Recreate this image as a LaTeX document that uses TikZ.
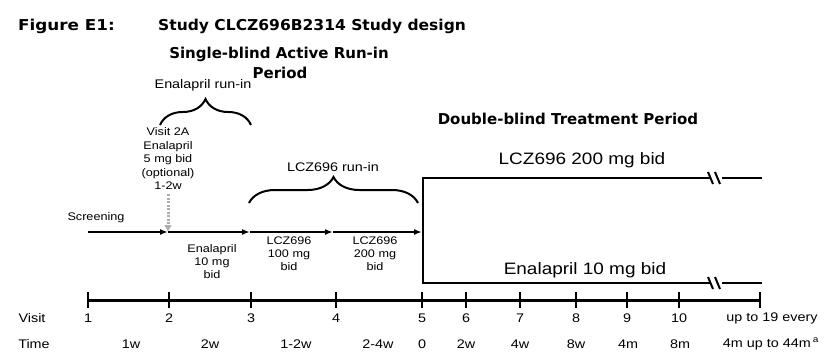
\documentclass[tikz,border=0pt]{standalone}
\usepackage{fontspec}
\setmainfont{Liberation Sans}[FakeStretch=1.15]
\newfontfamily\titlefont{DejaVu Sans}
\usetikzlibrary{arrows.meta,decorations.pathreplacing}
\begin{document}
\begin{tikzpicture}[x=1pt,y=-1pt,
  ttl/.style={font=\titlefont\bfseries\fontsize{15}{17}\selectfont,inner sep=0pt,anchor=base},
  lbl/.style={font=\fontsize{11}{13}\selectfont,inner sep=0pt,align=center},
  big/.style={font=\fontsize{16.5}{18}\selectfont,inner sep=0pt},
  axl/.style={font=\fontsize{12.5}{14}\selectfont,inner sep=0pt},
  flow/.style={line width=2.2pt,-{Latex[length=8pt,width=6pt]}},
  arm/.style={line width=2.2pt},
  brc/.style={line width=2pt,decorate,decoration={brace,amplitude=26pt}},
  tick/.style={line width=2.5pt}]
\useasboundingbox (0,0) rectangle (832,362);
% titles
\node[ttl,anchor=base west] (fig) at (18,30) {\scalebox{1.12}[1]{Figure E1:}};
\node[ttl,anchor=base west] (stu) at (158,30) {\scalebox{1.035}[1]{Study CLCZ696B2314 Study design}};
\node[ttl] (sb1) at (279,58) {Single-blind Active Run-in};
\node[ttl] (sb2) at (280,78) {Period};
\node[ttl] (db) at (568,124) {Double-blind Treatment Period};
% run-in labels and braces
\node[lbl,font=\fontsize{12.5}{14}\selectfont] (erl) at (203,85) {Enalapril run-in};
\coordinate (eb1) at (160,125);
\coordinate (eb2) at (251,125);
\draw[brc] (eb1) -- (eb2);
\node[lbl,font=\fontsize{12.5}{14}\selectfont] (lrl) at (333,167) {LCZ696 run-in};
\coordinate (lb1) at (249,203);
\coordinate (lb2) at (418,203);
\draw[brc] (lb1) -- (lb2);
% visit 2A
\node[lbl,align=center,font=\fontsize{11}{13.5}\selectfont] (v2a) at (168,159) {Visit 2A\\Enalapril\\5 mg bid\\(optional)\\1-2w};
% timeline
\coordinate (s0) at (88,232);
\coordinate (t2) at (168,232);
\coordinate (t3) at (250,232);
\coordinate (t4) at (333,232);
\coordinate (t5) at (422,232);
\coordinate (dtop) at (168,194);
\draw[gray!65,line width=3pt,dash pattern=on 2.2pt off 1.3pt,-{Latex[length=7pt,width=8pt]}] (dtop) -- (t2);
\draw[flow] (s0) -- (t2);
\draw[flow] (t2) -- (t3);
\draw[flow] (t3) -- (t4);
\draw[flow] (t4) -- (t5);
\node[lbl] (scr) at (96,218) {Screening};
\node[lbl] (en10) at (212,262) {Enalapril\\10 mg\\bid};
\node[lbl] (l100) at (289,254) {LCZ696\\100 mg\\bid};
\node[lbl] (l200) at (375,254) {LCZ696\\200 mg\\bid};
% treatment arms
\coordinate (vt) at (423,178);
\coordinate (vb) at (423,283);
\coordinate (ta) at (710,178);
\coordinate (tb) at (722,178);
\coordinate (te) at (762,178);
\coordinate (ba) at (710,283);
\coordinate (bb) at (722,283);
\coordinate (be) at (762,283);
\draw[arm,line join=miter] (ta) -- (vt) -- (vb) -- (ba);
\draw[arm] (tb) -- (te);
\draw[arm] (bb) -- (be);
\foreach \c in {ta,ba}{
  \draw[line width=2pt] ([xshift=-2pt,yshift=6pt]\c) -- ([xshift=3pt,yshift=-6pt]\c);
  \draw[line width=2pt] ([xshift=5pt,yshift=6pt]\c) -- ([xshift=10pt,yshift=-6pt]\c);
}
\node[big] (ltop) at (582,160) {LCZ696 200 mg bid};
\node[big] (lbot) at (585,270) {Enalapril 10 mg bid};
% axis
\coordinate (a0) at (88,300);
\coordinate (a1) at (761,300);
\draw[line width=3pt] (a0) -- (a1);
\foreach \x in {88,169,251,336,422,466,520,576,627,679,760}{
  \draw[tick] (\x,292) -- (\x,308);
}
\node[axl] (visit) at (32,318) {Visit};
\node[axl] (time) at (34,344) {Time};
\foreach \x/\t in {88/1,169/2,251/3,336/4,422/5,466/6,520/7,576/8,627/9,679/10}{
  \node[axl] at (\x,318) {\t};
}
\node[axl] (upto) at (772,318) {up to 19 every};
\foreach \x/\t in {131/1w,210/2w,296/1-2w,378/2-4w,422/0,466/2w,520/4w,576/8w,628/4m,680/8m}{
  \node[axl] at (\x,344) {\t};
}
\node[axl] (last) at (771,344) {4m up to 44m\,\textsuperscript{a}};
\end{tikzpicture}
\end{document}
